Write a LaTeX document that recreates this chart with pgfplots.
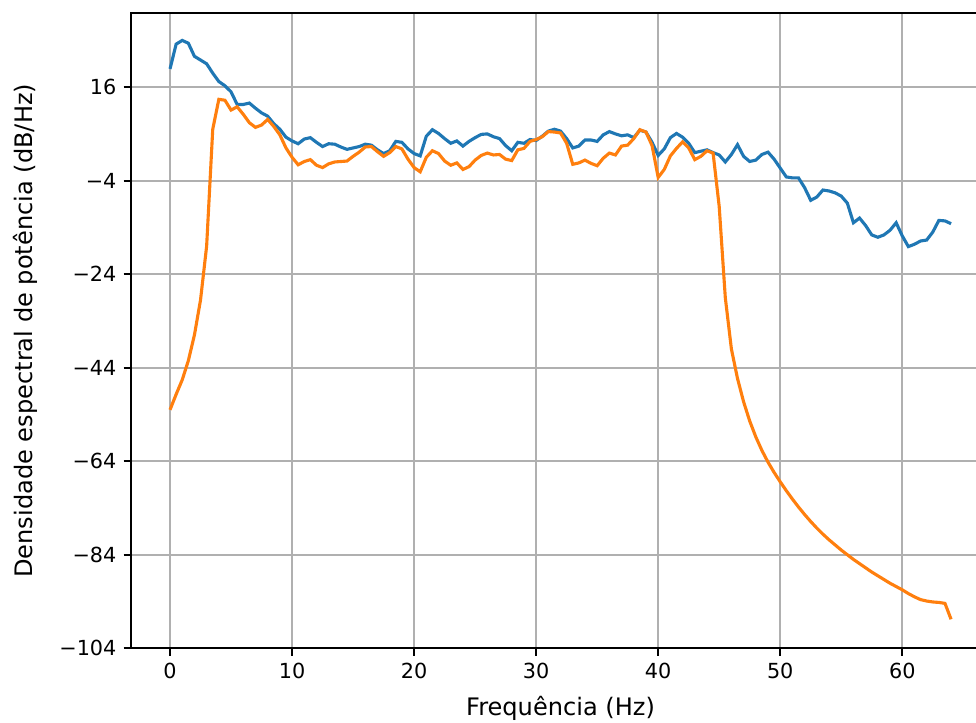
\documentclass[border=0pt]{standalone}
\usepackage{pgfplots}
\pgfplotsset{compat=1.18}
\usepackage{pgfplotstable}
\usepackage{fontspec}
\setmainfont{DejaVu Sans}

\definecolor{mplblue}{HTML}{1F77B4}
\definecolor{mplorange}{HTML}{FF7F0E}
\definecolor{gridgray}{HTML}{B0B0B0}

% f (Hz), PSD original, PSD filtrado (dB/Hz)
\pgfplotstableread{
f     orig   filt
0     19.9   -53.0
0.5   25.2   -49.7
1     26.0   -46.6
1.5   25.4   -42.5
2     22.6   -37.0
2.5   21.8   -29.5
3     21.0   -18.0
3.5   19.0   7.0
4     17.2   13.4
4.5   16.3   13.2
5     15.0   11.1
5.5   12.3   11.8
6     12.3   10.2
6.5   12.6   8.4
7     11.5   7.4
7.5   10.5   7.9
8     9.8    9.1
8.5   8.2    7.6
9     7.0    5.8
9.5   5.3    3.0
10    4.5    1.0
10.5  3.9    -0.6
11    4.9    0.1
11.5  5.2    0.5
12    4.2    -0.7
12.5  3.3    -1.2
13    3.9    -0.4
13.5  3.8    0.0
14    3.2    0.1
14.5  2.7    0.2
15    3.0    1.2
15.5  3.3    2.1
16    3.8    3.2
16.5  3.6    3.3
17    2.6    2.2
17.5  1.8    1.2
18    2.4    2.0
18.5  4.4    3.3
19    4.2    2.8
19.5  2.8    0.6
20    1.8    -1.2
20.5  1.3    -2.1
21    5.5    1.0
21.5  6.9    2.4
22    6.1    1.8
22.5  5.0    0.2
23    4.0    -0.7
23.5  4.5    -0.2
24    3.4    -1.6
24.5  4.4    -1.0
25    5.2    0.4
25.5  5.9    1.4
26    6.0    1.9
26.5  5.4    1.5
27    5.0    1.6
27.5  3.5    0.6
28    2.4    0.3
28.5  4.2    2.6
29    4.0    2.9
29.5  4.8    4.4
30    4.6    4.8
30.5  5.5    5.4
31    6.6    6.5
31.5  7.0    6.4
32    6.6    6.2
32.5  5.0    4.0
33    3.0    -0.5
33.5  3.4    -0.2
34    4.7    0.4
34.5  4.7    -0.3
35    4.4    -0.8
35.5  5.8    0.8
36    6.5    1.9
36.5  6.0    1.5
37    5.6    3.4
37.5  5.8    3.6
38    5.2    5.0
38.5  6.8    6.9
39    6.4    6.4
39.5  4.2    3.5
40    1.4    -3.3
40.5  2.8    -1.6
41    5.2    1.3
41.5  6.1    2.9
42    5.3    4.3
42.5  4.0    3.0
43    2.0    0.5
43.5  2.3    1.2
44    2.6    2.4
44.5  2.0    1.9
45    1.5    -9.5
45.5  0.0    -29.0
46    1.6    -40.0
46.5  3.7    -46.3
47    1.2    -51.3
47.5  0.1    -55.4
48    0.4    -58.8
48.5  1.6    -61.7
49    2.1    -64.2
49.5  0.6    -66.4
50    -1.3   -68.4
50.5  -3.2   -70.3
51    -3.4   -72.1
51.5  -3.4   -73.8
52    -5.5   -75.4
52.5  -8.2   -76.9
53    -7.5   -78.3
53.5  -6.0   -79.6
54    -6.2   -80.8
54.5  -6.6   -81.9
55    -7.3   -83.0
55.5  -8.8   -84.0
56    -13.0  -85.0
56.5  -12.0  -85.9
57    -13.6  -86.8
57.5  -15.6  -87.7
58    -16.1  -88.5
58.5  -15.6  -89.3
59    -14.6  -90.1
59.5  -13.0  -90.8
60    -15.8  -91.5
60.5  -18.1  -92.3
61    -17.6  -93.0
61.5  -16.9  -93.6
62    -16.7  -93.9
62.5  -15.0  -94.1
63    -12.5  -94.2
63.5  -12.6  -94.4
64    -13.2  -97.8
}\psd

\begin{document}
\begin{tikzpicture}
\begin{axis}[
    name=ax,
    scale only axis,
    width=413.9pt, height=305.9pt,
    xmin=-3.2, xmax=67.2,
    ymin=-104, ymax=31.8,
    xtick={0,10,20,30,40,50,60},
    ytick={-104,-84,-64,-44,-24,-4,16},
    yticklabels={−104,−84,−64,−44,−24,−4,16},
    tick pos=left,
    tick align=outside,
    major tick length=3.5pt,
    every tick/.style={black, line width=0.8pt},
    grid=major,
    major grid style={gridgray, line width=0.8pt},
    axis line style={line width=0.8pt},
    /pgf/number format/assume math mode=true,
    tick label style={font=\fontsize{10}{12}\selectfont},
    xlabel={Frequência (Hz)},
    ylabel={Densidade espectral de potência (dB/Hz)},
    every axis x label/.style={at={(axis description cs:0.5,-0.0945)}, anchor=center,
        font=\fontsize{11.6}{14}\selectfont},
    every axis y label/.style={at={(axis description cs:-0.1234,0.5)}, anchor=center, rotate=90,
        font=\fontsize{11.6}{14}\selectfont},
]
\addplot[mplblue, line width=1.5pt] table[x=f, y=orig] {\psd};
\addplot[mplorange, line width=1.5pt] table[x=f, y=filt] {\psd};
\end{axis}
\pgfresetboundingbox
\path[use as bounding box] ([xshift=-63.1pt, yshift=-36pt]ax.south west)
    rectangle ([xshift=407.1pt, yshift=6.4pt]ax.north west);
\end{tikzpicture}
\end{document}
